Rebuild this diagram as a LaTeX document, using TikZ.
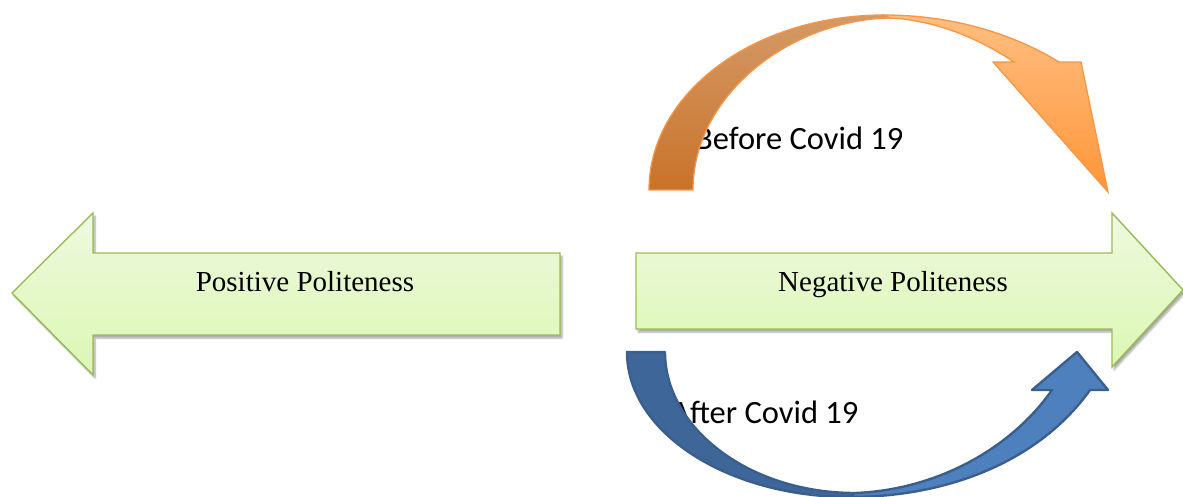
\documentclass[tikz,border=0pt]{standalone}
\usepackage{fontspec}
\setmainfont{Liberation Serif}
\newfontfamily\labelfont{Carlito}
\usetikzlibrary{shadows.blur}

\definecolor{greenedge}{HTML}{9BBB59}
\definecolor{greentop}{HTML}{EEF9DF}
\definecolor{greenbot}{HTML}{DCF7B3}
\definecolor{orangeedge}{HTML}{F79646}
\definecolor{orangebacktop}{HTML}{D49A66}
\definecolor{orangebackbot}{HTML}{C9722A}
\definecolor{orangefronttop}{HTML}{FFBE80}
\definecolor{orangefrontbot}{HTML}{FF9638}
\definecolor{blueedge}{HTML}{3A5F8D}
\definecolor{blueback}{HTML}{3F6698}
\definecolor{bluefront}{HTML}{4F80BE}

\tikzset{
  flatarrow/.style={draw=greenedge, line width=1.4pt, line join=miter,
    top color=greentop, bottom color=greenbot,
    blur shadow={shadow xshift=2pt, shadow yshift=-3pt, shadow blur steps=6, shadow opacity=35}},
  arrowtext/.style={anchor=base, inner sep=0pt, font=\fontsize{29}{34}\selectfont},
  phaselabel/.style={anchor=base west, inner sep=0pt, font=\labelfont\fontsize{32.5}{38}\selectfont},
  orangeband/.style={draw=orangeedge, line width=1.3pt, line join=miter},
  blueband/.style={draw=blueedge, line width=2.4pt, line join=round},
}

\begin{document}
\begin{tikzpicture}[x=1pt,y=-1pt]
\useasboundingbox (0,0) rectangle (1183,497);

% left flat arrow
\path[flatarrow] (12,293) -- (93,213) -- (93,253) -- (560,253) -- (560,335)
  -- (93,335) -- (93,375) -- cycle;
% right flat arrow
\path[flatarrow] (636,253) -- (1112,253) -- (1112,213) -- (1183,290)
  -- (1112,367) -- (1112,329) -- (636,329) -- cycle;

\node[arrowtext] (pos) at (305,291) {Positive Politeness};
\node[arrowtext] (neg) at (893,291) {Negative Politeness};

% labels lie beneath the curved arrows
\node[phaselabel] (before) at (695,150) {Before Covid 19};
\node[phaselabel] (after) at (671,423) {After Covid 19};

% curved arrow over the top: front part with the head
\path[orangeband, top color=orangefronttop, bottom color=orangefrontbot]
  (884,15) .. controls (960,15) and (1020,38) .. (1059,62)
  -- (1081,62) -- (1108,192) -- (993,62) -- (1014,62)
  .. controls (975,36) and (932,20) .. (890,18) -- cycle;
% curved arrow over the top: back band
\path[orangeband, top color=orangebacktop, bottom color=orangebackbot]
  (649,190) .. controls (649,93) and (754,15) .. (884,15)
  -- (890,18) .. controls (790,20) and (693,95) .. (693,190) -- cycle;

% curved arrow underneath: back band
\path[blueband, fill=blueback]
  (627,352) .. controls (627,432) and (727,497) .. (850,497)
  -- (855,493) .. controls (749,493) and (665,428) .. (665,352) -- cycle;
% curved arrow underneath: front part with the head
\path[blueband, fill=bluefront]
  (850,497) .. controls (950,497) and (1040,460) .. (1090,390)
  -- (1108,390) -- (1077,352) -- (1032,390) -- (1052,390)
  .. controls (1010,450) and (935,490) .. (855,493) -- cycle;
\end{tikzpicture}
\end{document}
